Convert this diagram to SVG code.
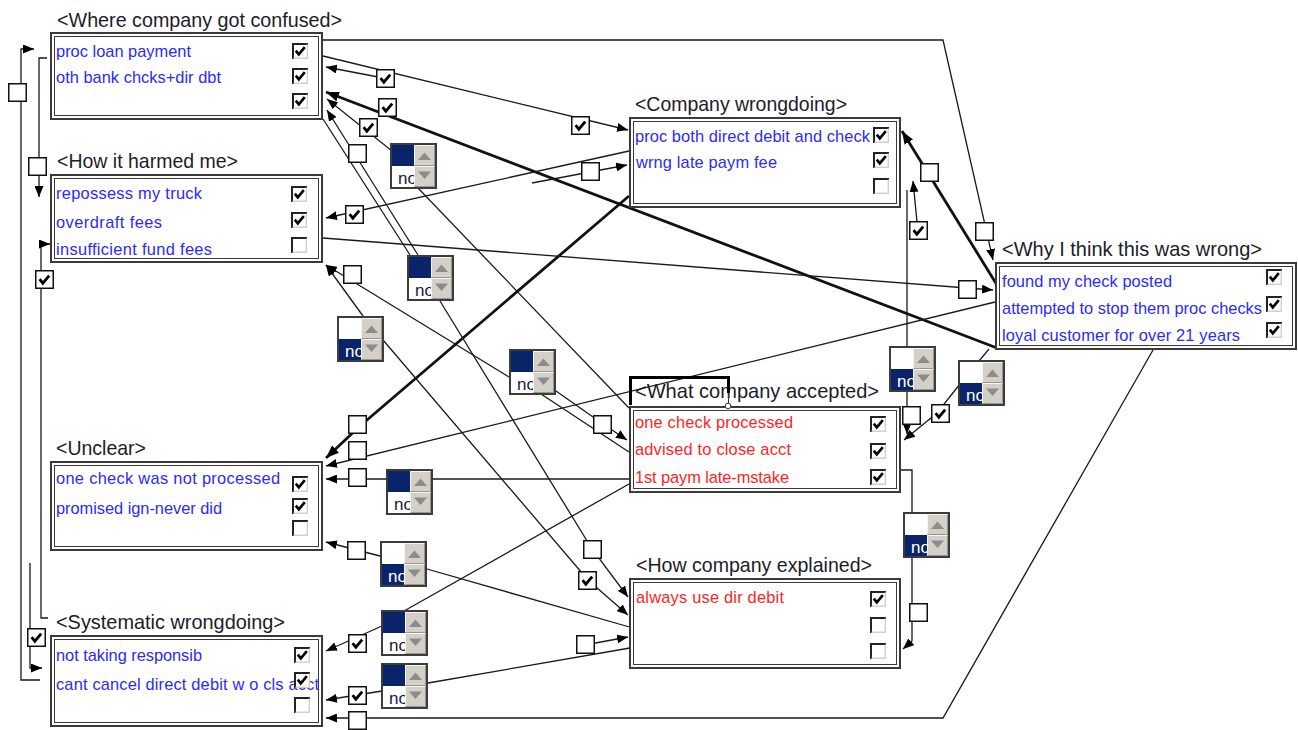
<svg xmlns="http://www.w3.org/2000/svg" xmlns:xlink="http://www.w3.org/1999/xlink" width="1298" height="730" viewBox="0 0 1298 730">
<style>
.title{font-family:"Liberation Sans",Arial,sans-serif;font-size:19.8px;fill:#1c1c2a}
.item{font-family:"Liberation Sans",Arial,sans-serif;font-size:16.4px;fill:#2a2aff}
.red{fill:#ff2424}
.bo{fill:#fff;stroke:#3a3a3a;stroke-width:2}
.bi{fill:none;stroke:#3a3a3a;stroke-width:1}
.ln{fill:none;stroke:#1a1a1a;stroke-width:1.3}
.thick{fill:none;stroke:#111;stroke-width:2.8}
.spt{font-family:"Liberation Sans",Arial,sans-serif;font-size:17px}
</style>
<defs>
<marker id="ah" viewBox="0 0 11 9" refX="11" refY="4.5" markerWidth="11" markerHeight="9" markerUnits="userSpaceOnUse" orient="auto"><path d="M0,0 L11,4.5 L0,9 Z" fill="#000"/></marker>
<marker id="ahT" viewBox="0 0 13 10" refX="13" refY="5" markerWidth="13" markerHeight="10" markerUnits="userSpaceOnUse" orient="auto"><path d="M0,0 L13,5 L0,10 Z" fill="#000"/></marker>
<g id="cbOff">
<rect x="0" y="0" width="16" height="16" fill="#fff"/>
<path d="M1,16 V1 H16" fill="none" stroke="#222" stroke-width="2"/>
<path d="M1.5,15.3 H15.3 V1.5" fill="none" stroke="#d4d0c8" stroke-width="1.4"/>
</g>
<g id="cbOn">
<use xlink:href="#cbOff"/>
<path d="M3.8,7.6 L6.8,11.4 L12.8,4.2" fill="none" stroke="#000" stroke-width="2.6"/>
</g>
<g id="lbOff"><rect x="0.75" y="0.75" width="17.5" height="17.5" fill="#fff" stroke="#111" stroke-width="1.5"/></g>
<g id="lbOn"><use xlink:href="#lbOff"/><path d="M4.6,9.2 L7.8,13.2 L14.2,5.6" fill="none" stroke="#000" stroke-width="2.8"/></g>
<g id="spBtn">
<rect x="24" y="2" width="21" height="21" fill="#d4d0c8"/>
<rect x="24" y="23" width="21" height="21" fill="#d4d0c8"/>
<path d="M24.5,22.5 V2.5 H44.5 M24.5,43.5 V23.5 H44.5" fill="none" stroke="#f4f4f0" stroke-width="1"/>
<path d="M24.5,22.5 H44.5 V2.5 M24.5,43.5 H44.5 V23.5" fill="none" stroke="#9a968e" stroke-width="1"/>
<path d="M28,17 H41 L34.5,9.5 Z" fill="#8c8c8c"/>
<path d="M28,28.5 H41 L34.5,36 Z" fill="#8c8c8c"/>
</g>
<g id="spA">
<rect x="1" y="1" width="45" height="44" fill="#fff" stroke="#3c3c3c" stroke-width="2"/>
<rect x="2" y="2" width="22" height="21" fill="#0a246a"/>
<text class="spt" x="8" y="41" fill="#1a1a3a">no</text>
<use xlink:href="#spBtn"/>
</g>
<g id="spB">
<rect x="1" y="1" width="45" height="44" fill="#fff" stroke="#3c3c3c" stroke-width="2"/>
<rect x="2" y="23" width="22" height="21" fill="#0a246a"/>
<text class="spt" x="8" y="41" fill="#fff">no</text>
<use xlink:href="#spBtn"/>
</g>
<clipPath id="clipSys"><rect x="55" y="638" width="266" height="86"/></clipPath>
</defs>
<rect width="1298" height="730" fill="#fff"/>

<g id="connectors">
<polyline class="ln" points="323,40 943,40 993,260" marker-end="url(#ah)"/>
<line class="ln" x1="323" y1="56" x2="628" y2="130" marker-end="url(#ah)"/>
<line class="ln" x1="394" y1="80" x2="326" y2="67" marker-end="url(#ah)"/>
<line class="thick" x1="997" y1="348" x2="326" y2="92" marker-end="url(#ahT)"/>
<line class="ln" x1="392" y1="151" x2="327" y2="99" marker-end="url(#ah)"/>
<line class="ln" x1="418" y1="255" x2="327" y2="110" marker-end="url(#ah)"/>
<line class="ln" x1="410" y1="255" x2="323" y2="119"/>
<line class="ln" x1="629" y1="151" x2="326" y2="218" marker-end="url(#ah)"/>
<line class="ln" x1="532" y1="183" x2="627" y2="165" marker-end="url(#ah)"/>
<line class="ln" x1="323" y1="238" x2="993" y2="290" marker-end="url(#ah)"/>
<line class="thick" x1="997" y1="285" x2="902" y2="131" marker-end="url(#ahT)"/>
<line class="ln" x1="363" y1="316" x2="326" y2="265" marker-end="url(#ah)"/>
<line class="ln" x1="509" y1="377" x2="326" y2="265" marker-end="url(#ah)"/>
<line class="ln" x1="418" y1="188" x2="629" y2="408"/>
<polyline class="ln" points="440,301 592,549 628,597" marker-end="url(#ah)"/>
<polyline class="ln" points="383,340 588,580 628,615" marker-end="url(#ah)"/>
<polyline class="thick" points="629,196 360,426 326,458" marker-end="url(#ahT)"/>
<line class="ln" x1="995" y1="302" x2="326" y2="466" marker-end="url(#ah)"/>
<line class="ln" x1="629" y1="479" x2="326" y2="479" marker-end="url(#ah)"/>
<line class="ln" x1="629" y1="484" x2="404" y2="611"/>
<line class="ln" x1="382" y1="626" x2="326" y2="651" marker-end="url(#ah)"/>
<line class="ln" x1="427" y1="569" x2="633" y2="628"/>
<line class="ln" x1="380" y1="556" x2="326" y2="542" marker-end="url(#ah)"/>
<line class="ln" x1="428" y1="683" x2="630" y2="648"/>
<line class="ln" x1="382" y1="691" x2="326" y2="700" marker-end="url(#ah)"/>
<polyline class="ln" points="1153,350 943,718 326,718" marker-end="url(#ah)"/>
<line class="ln" x1="590" y1="644" x2="628" y2="637" marker-end="url(#ah)"/>
<polyline class="ln" points="556,391 603,424 627,440" marker-end="url(#ah)"/>
<line class="ln" x1="541" y1="394" x2="629" y2="452"/>
<line class="ln" x1="907" y1="346" x2="907" y2="190"/>
<line class="ln" x1="917" y1="222" x2="913" y2="181" marker-end="url(#ah)"/>
<line class="ln" x1="907" y1="391" x2="907" y2="434" marker-end="url(#ah)"/>
<line class="ln" x1="989" y1="349" x2="979" y2="361"/>
<polyline class="ln" points="960,384 937,413 904,440" marker-end="url(#ah)"/>
<polyline class="ln" points="901,470 912,470 912,512"/>
<polyline class="ln" points="912,557 912,641 903,649" marker-end="url(#ah)"/>
<polyline class="ln" points="40,680 21,680 21,49 34,49" marker-end="url(#ah)"/>
<polyline class="ln" points="47,58 39,58 39,197" marker-end="url(#ah)"/>
<polyline class="ln" points="48,618 41,618 41,244 50,244" marker-end="url(#ah)"/>
<polyline class="ln" points="30,563 30,668 42,668" marker-end="url(#ah)"/>
</g>

<g id="node-where">
<text class="title" x="57" y="27" textLength="285" lengthAdjust="spacingAndGlyphs">&lt;Where company got confused&gt;</text>
<rect class="bo" x="51" y="33" width="271" height="86"/>
<rect class="bi" x="54.5" y="36.5" width="264" height="79"/>
<text class="item" x="56" y="57" textLength="135">proc loan payment</text>
<text class="item" x="56" y="83" textLength="165">oth bank chcks+dir dbt</text>
<use xlink:href="#cbOn" x="292" y="43"/>
<use xlink:href="#cbOn" x="292" y="68"/>
<use xlink:href="#cbOn" x="292" y="93"/>
</g>

<g id="node-harmed">
<text class="title" x="57" y="168" textLength="181" lengthAdjust="spacingAndGlyphs">&lt;How it harmed me&gt;</text>
<rect class="bo" x="51" y="175" width="271" height="87"/>
<rect class="bi" x="54.5" y="178.5" width="264" height="80"/>
<text class="item" x="56" y="199" textLength="146">repossess my truck</text>
<text class="item" x="56" y="228" textLength="106">overdraft fees</text>
<text class="item" x="56" y="255" textLength="156">insufficient fund fees</text>
<use xlink:href="#cbOn" x="291" y="186"/>
<use xlink:href="#cbOn" x="291" y="212"/>
<use xlink:href="#cbOff" x="291" y="237"/>
</g>

<g id="node-company-wrongdoing">
<text class="title" x="635" y="111" textLength="212" lengthAdjust="spacingAndGlyphs">&lt;Company wrongdoing&gt;</text>
<rect class="bo" x="630" y="118" width="270" height="89"/>
<rect class="bi" x="633.5" y="121.5" width="263" height="82"/>
<text class="item" x="635" y="142" textLength="235">proc both direct debit and check</text>
<text class="item" x="636" y="168" textLength="141">wrng late paym fee</text>
<use xlink:href="#cbOn" x="873" y="127"/>
<use xlink:href="#cbOn" x="873" y="152"/>
<use xlink:href="#cbOff" x="873" y="178"/>
</g>

<g id="node-why-wrong">
<text class="title" x="1002" y="256" textLength="260" lengthAdjust="spacingAndGlyphs">&lt;Why I think this was wrong&gt;</text>
<rect class="bo" x="996" y="263" width="300" height="86"/>
<rect class="bi" x="999.5" y="266.5" width="293" height="79"/>
<text class="item" x="1002" y="287" textLength="170">found my check posted</text>
<text class="item" x="1002" y="314" textLength="260">attempted to stop them proc checks</text>
<text class="item" x="1002" y="341" textLength="238">loyal customer for over 21 years</text>
<use xlink:href="#cbOn" x="1266" y="269"/>
<use xlink:href="#cbOn" x="1266" y="296"/>
<use xlink:href="#cbOn" x="1266" y="322"/>
</g>

<g id="node-accepted">
<text class="title" x="635" y="398" textLength="244" lengthAdjust="spacingAndGlyphs">&lt;What company accepted&gt;</text>
<rect class="bo" x="630" y="407" width="270" height="85"/>
<rect class="bi" x="633.5" y="410.5" width="263" height="78"/>
<text class="item red" x="635" y="428" textLength="158">one check processed</text>
<text class="item red" x="635" y="455" textLength="156">advised to close acct</text>
<text class="item red" x="635" y="483" textLength="154">1st paym late-mstake</text>
<use xlink:href="#cbOn" x="870" y="416"/>
<use xlink:href="#cbOn" x="870" y="443"/>
<use xlink:href="#cbOn" x="870" y="469"/>
<polyline points="630.5,405 630.5,377.5 728.5,377.5 728.5,393" fill="none" stroke="#000" stroke-width="3"/>
<line x1="728.5" y1="393" x2="728.5" y2="403" stroke="#333" stroke-width="1"/>
<circle cx="728" cy="406" r="2.8" fill="#fff" stroke="#333" stroke-width="1"/>
</g>

<g id="node-unclear">
<text class="title" x="56" y="455" textLength="90" lengthAdjust="spacingAndGlyphs">&lt;Unclear&gt;</text>
<rect class="bo" x="51" y="462" width="271" height="88"/>
<rect class="bi" x="54.5" y="465.5" width="264" height="81"/>
<text class="item" x="56" y="484" textLength="224">one check was not processed</text>
<text class="item" x="56" y="514" textLength="166">promised ign-never did</text>
<use xlink:href="#cbOn" x="292" y="476"/>
<use xlink:href="#cbOn" x="292" y="498"/>
<use xlink:href="#cbOff" x="292" y="520"/>
</g>

<g id="node-systematic">
<text class="title" x="56" y="629" textLength="229" lengthAdjust="spacingAndGlyphs">&lt;Systematic wrongdoing&gt;</text>
<rect class="bo" x="51" y="636" width="271" height="90"/>
<rect class="bi" x="54.5" y="639.5" width="264" height="83"/>
<text class="item" x="56" y="661" textLength="146">not taking responsib</text>
<text class="item" x="56" y="690" textLength="263" clip-path="url(#clipSys)">cant cancel direct debit w o cls acct</text>
<use xlink:href="#cbOn" x="294" y="647"/>
<use xlink:href="#cbOn" x="294" y="672"/>
<use xlink:href="#cbOff" x="294" y="697"/>
</g>

<g id="node-explained">
<text class="title" x="636" y="572" textLength="236" lengthAdjust="spacingAndGlyphs">&lt;How company explained&gt;</text>
<rect class="bo" x="630" y="579" width="270" height="89"/>
<rect class="bi" x="633.5" y="582.5" width="263" height="82"/>
<text class="item red" x="636" y="603" textLength="148">always use dir debit</text>
<use xlink:href="#cbOn" x="870" y="591"/>
<use xlink:href="#cbOff" x="870" y="617"/>
<use xlink:href="#cbOff" x="870" y="643"/>
</g>

<g id="connector-labels">
<use xlink:href="#lbOn" x="376" y="69"/>
<use xlink:href="#lbOn" x="378" y="98"/>
<use xlink:href="#lbOn" x="359" y="118"/>
<use xlink:href="#lbOff" x="348" y="144"/>
<use xlink:href="#lbOn" x="571" y="116"/>
<use xlink:href="#lbOff" x="581" y="162"/>
<use xlink:href="#lbOn" x="345" y="205"/>
<use xlink:href="#lbOff" x="343" y="265"/>
<use xlink:href="#lbOff" x="348" y="415"/>
<use xlink:href="#lbOff" x="348" y="441"/>
<use xlink:href="#lbOff" x="348" y="468"/>
<use xlink:href="#lbOff" x="347" y="541"/>
<use xlink:href="#lbOff" x="583" y="540"/>
<use xlink:href="#lbOn" x="578" y="571"/>
<use xlink:href="#lbOff" x="576" y="635"/>
<use xlink:href="#lbOn" x="348" y="634"/>
<use xlink:href="#lbOn" x="348" y="686"/>
<use xlink:href="#lbOff" x="348" y="711"/>
<use xlink:href="#lbOff" x="593" y="415"/>
<use xlink:href="#lbOff" x="8" y="83"/>
<use xlink:href="#lbOff" x="28" y="157"/>
<use xlink:href="#lbOn" x="35" y="270"/>
<use xlink:href="#lbOn" x="27" y="628"/>
<use xlink:href="#lbOff" x="975" y="222"/>
<use xlink:href="#lbOff" x="958" y="280"/>
<use xlink:href="#lbOff" x="920" y="163"/>
<use xlink:href="#lbOn" x="909" y="221"/>
<use xlink:href="#lbOff" x="902" y="406"/>
<use xlink:href="#lbOn" x="931" y="404"/>
<use xlink:href="#lbOff" x="909" y="603"/>
<use xlink:href="#spA" x="390" y="143"/>
<use xlink:href="#spA" x="407" y="255"/>
<use xlink:href="#spB" x="337" y="316"/>
<use xlink:href="#spA" x="509" y="349"/>
<use xlink:href="#spA" x="386" y="469"/>
<use xlink:href="#spB" x="380" y="541"/>
<use xlink:href="#spA" x="381" y="610"/>
<use xlink:href="#spA" x="381" y="663"/>
<use xlink:href="#spB" x="889" y="346"/>
<use xlink:href="#spB" x="958" y="360"/>
<use xlink:href="#spB" x="903" y="512"/>
</g>
</svg>
